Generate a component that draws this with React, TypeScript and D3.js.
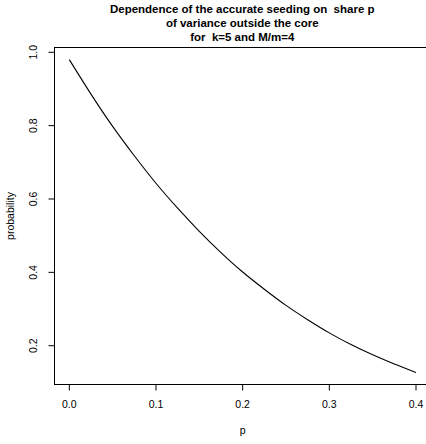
import React from "react";
import * as d3 from "d3";

const pValues = [0, 0.025, 0.05, 0.075, 0.1, 0.125, 0.15, 0.175, 0.2, 0.225, 0.25, 0.275, 0.3, 0.325, 0.35, 0.375, 0.4];
const probValues = [0.98, 0.886, 0.798, 0.718, 0.643, 0.575, 0.512, 0.454, 0.401, 0.354, 0.31, 0.271, 0.235, 0.203, 0.175, 0.15, 0.127];
const xTicks = [0, 0.1, 0.2, 0.3, 0.4];
const yTicks = [0.2, 0.4, 0.6, 0.8, 1.0];
const titleLines = [
  "Dependence of the accurate seeding on  share p",
  "of variance outside the core",
  "for  k=5 and M/m=4",
];

const W = 426;
const H = 444;
const FONT = "Liberation Sans, Arial, Helvetica, sans-serif";

export default function App() {
  const x = d3.scaleLinear().domain([0, 0.4]).range([69.3, 416]);
  const y = d3.scaleLinear().domain([0.2, 1.0]).range([345.7, 52.3]);
  const box = { left: 54.5, right: 430, top: 47.5, bottom: 384.5 };
  const data = pValues.map((p, i) => [p, probValues[i]] as [number, number]);
  const line = d3
    .line<[number, number]>()
    .x((d) => x(d[0]))
    .y((d) => y(d[1]))
    .curve(d3.curveNatural);
  const cx = (box.left + box.right) / 2;
  const cy = (box.top + box.bottom) / 2;

  return (
    <svg
      width={W}
      height={H}
      style={{ position: "absolute", left: 0, top: 0, background: "#fff" }}
      fontFamily={FONT}
    >
      <rect x={0} y={0} width={W} height={H} fill="#fff" />
      {titleLines.map((t, i) => (
        <text
          key={i}
          x={cx}
          y={12.5 + i * 14.2}
          textAnchor="middle"
          fontWeight="bold"
          fontSize={11.5}
          fill="#000"
          style={{ whiteSpace: "pre" }}
          xmlSpace="preserve"
        >
          {t}
        </text>
      ))}
      <rect
        x={box.left}
        y={box.top}
        width={box.right - box.left}
        height={box.bottom - box.top}
        fill="none"
        stroke="#000"
        strokeWidth={1}
      />
      <path d={line(data) || ""} fill="none" stroke="#000" strokeWidth={1.1} />
      {xTicks.map((t) => (
        <g key={"x" + t}>
          <line x1={x(t)} x2={x(t)} y1={box.bottom} y2={box.bottom + 6} stroke="#000" />
          <text x={x(t)} y={407.5} textAnchor="middle" fontSize={10.5} fill="#000">
            {d3.format(".1f")(t)}
          </text>
        </g>
      ))}
      {yTicks.map((t) => (
        <g key={"y" + t}>
          <line x1={box.left - 6} x2={box.left} y1={y(t)} y2={y(t)} stroke="#000" />
          <text
            transform={`translate(${37},${y(t)}) rotate(-90)`}
            textAnchor="middle"
            fontSize={10.5}
            fill="#000"
          >
            {d3.format(".1f")(t)}
          </text>
        </g>
      ))}
      <text x={x(0.2)} y={434} textAnchor="middle" fontSize={10.5} fill="#000">
        p
      </text>
      <text transform={`translate(${14},${cy}) rotate(-90)`} textAnchor="middle" fontSize={10.5} fill="#000">
        probability
      </text>
    </svg>
  );
}
